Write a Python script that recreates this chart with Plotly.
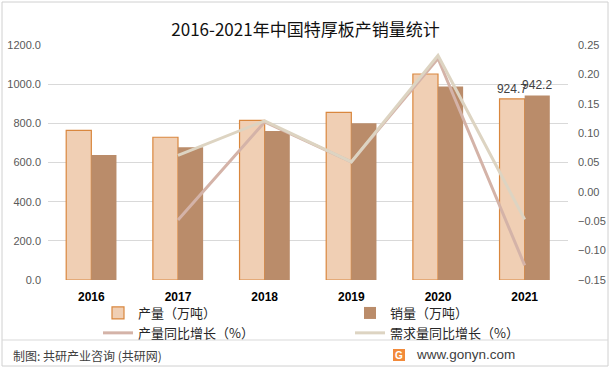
import plotly.graph_objects as go

years = ["2016", "2017", "2018", "2019", "2020", "2021"]
production = [764, 729, 815, 856, 1052, 924.7]
sales = [638, 678, 761, 800, 988, 942.2]
prod_growth = [None, -0.048, 0.119, 0.051, 0.227, -0.125]
demand_growth = [None, 0.062, 0.121, 0.051, 0.232, -0.047]
left_ticks = [0, 200, 400, 600, 800, 1000, 1200]
right_ticks = [-0.15, -0.10, -0.05, 0.00, 0.05, 0.10, 0.15, 0.20, 0.25]

label_years = {"2021"}
prod_text = [f"{v:.1f}" if y in label_years else "" for y, v in zip(years, production)]
sales_text = [f"{v:.1f}" if y in label_years else "" for y, v in zip(years, sales)]

CJK = "Noto Sans CJK SC"
NUM = "Liberation Sans"

fig = go.Figure()
fig.add_trace(go.Bar(
    x=years, y=production, name="产量（万吨）",
    marker=dict(color="#F0CFB4", line=dict(color="#D9873E", width=1.2)),
    text=prod_text, textposition="outside", cliponaxis=False, constraintext="none",
    textfont=dict(family=NUM, size=12, color="#404040"),
))
fig.add_trace(go.Bar(
    x=years, y=sales, name="销量（万吨）",
    marker=dict(color="#BA8C6A", line=dict(width=0)),
    text=sales_text, textposition="outside", cliponaxis=False, constraintext="none",
    textfont=dict(family=NUM, size=12, color="#404040"),
))
fig.add_trace(go.Scatter(
    x=years, y=prod_growth, name="产量同比增长（%）", yaxis="y2",
    mode="lines", line=dict(color="#D4B3A8", width=3),
))
fig.add_trace(go.Scatter(
    x=years, y=demand_growth, name="需求量同比增长（%）", yaxis="y2",
    mode="lines", line=dict(color="#DDD4C2", width=3),
))

# plot area in pixels: x 48..568, y 45..280
PL, PR, PT, PB = 48, 568, 45, 280
W, H = 611, 370
def px_x(p):
    return (p - PL) / (PR - PL)
def px_y(p):
    return (PB - p) / (PB - PT)

shapes = [
    dict(type="rect", xref="paper", yref="paper",
         x0=px_x(2), x1=px_x(608), y0=px_y(366), y1=px_y(2),
         line=dict(color="#D0D0D0", width=1), fillcolor="rgba(0,0,0,0)", layer="below"),
    dict(type="line", xref="paper", yref="paper",
         x0=px_x(2), x1=px_x(608), y0=px_y(340), y1=px_y(340),
         line=dict(color="#D9D9D9", width=1)),
    dict(type="rect", xref="paper", yref="paper",
         x0=px_x(393), x1=px_x(405), y0=px_y(361), y1=px_y(349),
         line=dict(width=0), fillcolor="#F28A3A"),
]

annotations = [
    dict(text="制图: 共研产业咨询 (共研网)", xref="paper", yref="paper",
         x=px_x(11), y=px_y(355), xanchor="left", yanchor="middle", showarrow=False,
         font=dict(family=CJK, size=12, color="#404040")),
    dict(text="www.gonyn.com", xref="paper", yref="paper",
         x=px_x(414), y=px_y(354), xanchor="left", yanchor="middle", showarrow=False,
         font=dict(family=NUM, size=13.5, color="#404040")),
    dict(text="<b>G</b>", xref="paper", yref="paper",
         x=px_x(399), y=px_y(355), xanchor="center", yanchor="middle", showarrow=False,
         font=dict(family=NUM, size=10, color="white")),
]

fig.update_layout(
    width=W, height=H,
    margin=dict(l=PL, r=W - PR, t=PT, b=H - PB, autoexpand=False),
    paper_bgcolor="white", plot_bgcolor="white",
    title=dict(text="2016-2021年中国特厚板产销量统计", x=0.5, xanchor="center",
               y=1 - 30 / H, yanchor="middle", yref="container",
               font=dict(family=CJK, size=17, color="#111111")),
    barmode="group", bargap=0.42, bargroupgap=0,
    xaxis=dict(type="category", showgrid=False, showline=False, ticks="",
               ticklabelstandoff=8,
               tickfont=dict(family=NUM, size=12, color="#000000", weight="bold")),
    yaxis=dict(range=[0, 1200], tickvals=left_ticks, tickformat=".1f",
               showgrid=True, gridcolor="#D9D9D9", gridwidth=1, zeroline=False,
               showline=False, ticks="", ticklen=0, ticklabelstandoff=6,
               tickfont=dict(family=NUM, size=11, color="#595959")),
    yaxis2=dict(range=[-0.15, 0.25], tickvals=right_ticks, tickformat=".2f",
                overlaying="y", side="right", showgrid=False, zeroline=False,
                showline=False, ticks="", ticklabelstandoff=9,
                tickfont=dict(family=NUM, size=11, color="#595959")),
    showlegend=True,
    legend=dict(orientation="h", x=px_x(98), y=px_y(298), xanchor="left", yanchor="top",
                entrywidth=207, entrywidthmode="pixels", traceorder="normal",
                font=dict(family=CJK, size=13, color="#262626"),
                bgcolor="rgba(0,0,0,0)", itemclick=False, tracegroupgap=0),
    shapes=shapes, annotations=annotations,
)

fig.write_html("out.html", config={"displayModeBar": False},
               post_script="document.body.style.margin='0';document.body.style.overflow='hidden';")
